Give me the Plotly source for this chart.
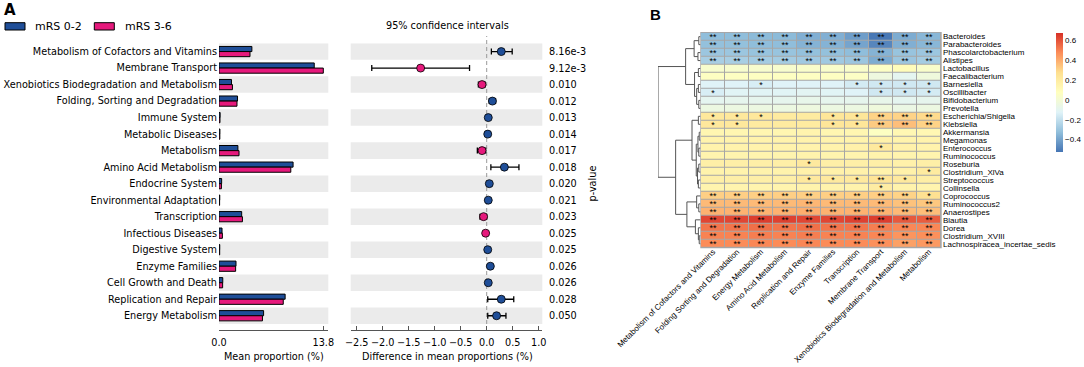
import plotly.graph_objects as go

W, H = 1084, 367


def px(x):
    return x / W


def py(y):
    return 1 - y / H


# ---------------- Panel A data ----------------
pathways = [
    "Metabolism of Cofactors and Vitamins", "Membrane Transport",
    "Xenobiotics Biodegradation and Metabolism", "Folding, Sorting and Degradation",
    "Immune System", "Metabolic Diseases", "Metabolism", "Amino Acid Metabolism",
    "Endocrine System", "Environmental Adaptation", "Transcription",
    "Infectious Diseases", "Digestive System", "Enzyme Families",
    "Cell Growth and Death", "Replication and Repair", "Energy Metabolism",
]
mean_mrs02 = [4.35, 12.6, 1.65, 2.45, 0.15, 0.12, 2.5, 9.8, 0.35, 0.1, 3.0, 0.4, 0.1, 2.25, 0.5, 8.75, 5.9]
mean_mrs36 = [4.1, 13.8, 1.78, 2.38, 0.13, 0.11, 2.65, 9.5, 0.32, 0.08, 3.1, 0.45, 0.09, 2.2, 0.48, 8.5, 5.75]
diff_mean = [0.28, -1.27, -0.09, 0.11, 0.03, 0.02, -0.09, 0.34, 0.05, 0.03, -0.06, -0.02, 0.02, 0.07, 0.03, 0.28, 0.19]
ci_low = [0.09, -2.21, -0.16, 0.05, 0.02, 0.01, -0.18, 0.08, 0.03, 0.02, -0.13, -0.04, 0.01, 0.04, 0.02, 0.02, 0.02]
ci_high = [0.49, -0.33, -0.03, 0.17, 0.04, 0.03, -0.02, 0.62, 0.07, 0.04, 0.0, -0.005, 0.03, 0.10, 0.05, 0.52, 0.37]
p_values = ["8.16e-3", "9.12e-3", "0.010", "0.012", "0.013", "0.014", "0.017", "0.018",
            "0.020", "0.021", "0.023", "0.025", "0.025", "0.026", "0.026", "0.028", "0.050"]
group_names = ["mRS 0-2", "mRS 3-6"]
bar_ticks = [0, 13.8]
bar_ticktext = ["0.0", "13.8"]
diff_ticks = [-2.5, -2.0, -1.5, -1.0, -0.5, 0.0, 0.5, 1.0]

# ---------------- Panel B data ----------------
func_cols = [
    "Metabolism of Cofactors and Vitamins", "Folding Sorting and Degradation",
    "Energy Metabolism", "Amino Acid Metabolism", "Replication and Repair",
    "Enzyme Families", "Transcription", "Membrane Transport",
    "Xenobiotics Biodegradation and Metabolism", "Metabolism",
]
genera = [
    "Bacteroides", "Parabacteroides", "Phascolarctobacterium", "Alistipes",
    "Lactobacillus", "Faecalibacterium", "Barnesiella", "Oscillibacter",
    "Bifidobacterium", "Prevotella", "Escherichia/Shigella", "Klebsiella",
    "Akkermansia", "Megamonas", "Enterococcus", "Ruminococcus", "Roseburia",
    "Clostridium_XlVa", "Streptococcus", "Collinsella", "Coprococcus",
    "Ruminococcus2", "Anaerostipes", "Blautia", "Dorea", "Clostridium_XVIII",
    "Lachnospiracea_incertae_sedis",
]
corr = [
    [-0.33, -0.33, -0.34, -0.34, -0.37, -0.37, -0.42, -0.52, -0.38, -0.35],
    [-0.32, -0.32, -0.33, -0.33, -0.36, -0.36, -0.40, -0.48, -0.37, -0.35],
    [-0.30, -0.30, -0.31, -0.31, -0.32, -0.32, -0.33, -0.36, -0.31, -0.30],
    [-0.27, -0.27, -0.28, -0.28, -0.29, -0.29, -0.30, -0.38, -0.30, -0.28],
    [0.02, 0.02, 0.02, 0.02, 0.03, 0.03, 0.03, 0.05, 0.09, 0.03],
    [0.06, 0.06, 0.06, 0.06, 0.06, 0.06, 0.05, -0.04, -0.10, -0.03],
    [-0.13, -0.13, -0.15, -0.13, -0.13, -0.13, -0.16, -0.17, -0.17, -0.17],
    [-0.15, -0.12, -0.12, -0.12, -0.11, -0.12, -0.13, -0.17, -0.17, -0.16],
    [-0.10, -0.09, -0.09, -0.09, -0.08, -0.09, -0.09, -0.08, -0.10, -0.09],
    [-0.05, -0.05, -0.05, -0.05, -0.04, -0.05, -0.05, -0.03, -0.06, -0.05],
    [0.22, 0.22, 0.22, 0.20, 0.20, 0.23, 0.23, 0.30, 0.30, 0.28],
    [0.22, 0.22, 0.20, 0.20, 0.20, 0.23, 0.23, 0.32, 0.35, 0.30],
    [0.13, 0.13, 0.13, 0.13, 0.14, 0.13, 0.13, 0.06, 0.12, 0.12],
    [0.15, 0.15, 0.15, 0.15, 0.15, 0.15, 0.15, 0.16, 0.15, 0.15],
    [0.15, 0.15, 0.15, 0.15, 0.15, 0.15, 0.16, 0.21, 0.16, 0.15],
    [0.14, 0.14, 0.14, 0.14, 0.15, 0.14, 0.14, 0.15, 0.14, 0.14],
    [0.17, 0.17, 0.17, 0.17, 0.21, 0.17, 0.17, 0.17, 0.16, 0.17],
    [0.15, 0.15, 0.15, 0.15, 0.16, 0.16, 0.16, 0.15, 0.16, 0.20],
    [0.17, 0.17, 0.17, 0.17, 0.21, 0.21, 0.21, 0.24, 0.21, 0.18],
    [0.14, 0.14, 0.14, 0.14, 0.15, 0.15, 0.15, 0.19, 0.15, 0.14],
    [0.31, 0.31, 0.31, 0.31, 0.31, 0.31, 0.31, 0.31, 0.30, 0.26],
    [0.36, 0.36, 0.36, 0.36, 0.37, 0.36, 0.36, 0.36, 0.34, 0.33],
    [0.38, 0.38, 0.38, 0.38, 0.39, 0.38, 0.38, 0.38, 0.36, 0.35],
    [0.62, 0.62, 0.64, 0.63, 0.62, 0.62, 0.63, 0.64, 0.58, 0.57],
    [0.52, 0.52, 0.53, 0.52, 0.53, 0.52, 0.52, 0.50, 0.48, 0.48],
    [0.49, 0.49, 0.50, 0.49, 0.50, 0.49, 0.49, 0.48, 0.45, 0.46],
    [0.47, 0.47, 0.48, 0.47, 0.48, 0.47, 0.47, 0.46, 0.42, 0.44],
]
# number of significance stars per cell
sig_stars = [
    [2] * 10, [2] * 10, [2] * 10, [2] * 10,
    [0] * 10, [0] * 10,
    [0, 0, 1, 0, 0, 0, 1, 1, 1, 1],
    [1, 0, 0, 0, 0, 0, 0, 1, 1, 1],
    [0] * 10, [0] * 10,
    [1, 1, 1, 0, 0, 1, 1, 2, 2, 2],
    [1, 1, 0, 0, 0, 1, 1, 2, 2, 2],
    [0] * 10, [0] * 10,
    [0, 0, 0, 0, 0, 0, 0, 1, 0, 0],
    [0] * 10,
    [0, 0, 0, 0, 1, 0, 0, 0, 0, 0],
    [0, 0, 0, 0, 0, 0, 0, 0, 0, 1],
    [0, 0, 0, 0, 1, 1, 1, 2, 1, 0],
    [0, 0, 0, 0, 0, 0, 0, 1, 0, 0],
    [2, 2, 2, 2, 2, 2, 2, 2, 2, 1],
    [2] * 10, [2] * 10, [2] * 10, [2] * 10, [2] * 10, [2] * 10,
]
# row dendrogram: (left, right, height); leaves are row indices
row_tree = (
    (((0, 1, 0.04), (2, 3, 0.06), 0.15),
     ((4, 5, 0.05), ((6, 7, 0.05), (8, 9, 0.04), 0.09), 0.14), 0.35),
    (((10, 11, 0.05),
      (((12, 13, 0.03), (14, 15, 0.04), 0.06), ((16, 17, 0.04), (18, 19, 0.05), 0.07), 0.10), 0.20),
     ((20, (21, 22, 0.04), 0.09), (23, (24, (25, 26, 0.03), 0.05), 0.12), 0.32), 0.585),
    1.0,
)
corr_min, corr_max = -0.527, 0.667
cbar_ticks = [-0.4, -0.2, 0, 0.2, 0.4, 0.6]
cbar_ticktext = ["\u22120.4", "\u22120.2", "0", "0.2", "0.4", "0.6"]

# ---------------- styles ----------------
BLUE = "#1f4e98"
PINK = "#e6197c"
BAND = "#ebebeb"
AX = "#555555"
FA = "DejaVu Sans"
FB = "Liberation Sans"
SA = 9.7
SB = 8

fig = go.Figure()
rows = list(range(len(pathways)))

# bars
fig.add_trace(go.Bar(y=rows, x=mean_mrs02, orientation="h", name=group_names[0],
                     marker=dict(color=BLUE, line=dict(color="black", width=1)),
                     xaxis="x", yaxis="y", showlegend=False))
fig.add_trace(go.Bar(y=rows, x=mean_mrs36, orientation="h", name=group_names[1],
                     marker=dict(color=PINK, line=dict(color="black", width=1)),
                     xaxis="x", yaxis="y", showlegend=False))

# CI plot
fig.add_trace(go.Scatter(
    x=diff_mean, y=rows, mode="markers", xaxis="x2", yaxis="y2", showlegend=False,
    marker=dict(size=8, color=[BLUE if d > 0 else PINK for d in diff_mean],
                line=dict(color="black", width=0.8)),
    error_x=dict(type="data", symmetric=False,
                 array=[h - d for h, d in zip(ci_high, diff_mean)],
                 arrayminus=[d - l for d, l in zip(diff_mean, ci_low)],
                 color="black", thickness=1.3, width=3),
))

# dendrogram
dx, dy = [], []


def walk(node):
    if isinstance(node, int):
        return float(node), 0.0
    left, right, h = node
    yl, hl = walk(left)
    yr, hr = walk(right)
    dx.extend([hl, h, h, hr, None])
    dy.extend([yl, yl, yr, yr, None])
    return (yl + yr) / 2, h


walk(row_tree)
fig.add_trace(go.Scatter(x=dx, y=dy, mode="lines", xaxis="x4", yaxis="y4",
                         line=dict(color="#555555", width=1), showlegend=False,
                         hoverinfo="skip"))

# heatmap
rdylbu_rev = ["#4575B4", "#91BFDB", "#E0F3F8", "#FFFFBF", "#FEE090", "#FC8D59", "#D73027"]
cscale = [[i / (len(rdylbu_rev) - 1), c] for i, c in enumerate(rdylbu_rev)]
fig.add_trace(go.Heatmap(
    z=corr, x=func_cols, y=genera, xaxis="x3", yaxis="y3",
    colorscale=cscale, zmin=corr_min, zmax=corr_max, xgap=1, ygap=1,
    text=[["*" * n for n in r] for r in sig_stars], texttemplate="%{text}",
    textfont=dict(size=9, color="black", family=FB),
    colorbar=dict(x=px(1055.7), xanchor="left", y=py(33.3), yanchor="top",
                  len=(152.7 - 33.3) / H, lenmode="fraction", thickness=7,
                  thicknessmode="pixels", outlinewidth=0, xpad=0, ypad=0,
                  tickvals=cbar_ticks, ticktext=cbar_ticktext, ticklen=0,
                  tickfont=dict(size=SB, family=FB, color="black"), ticks=""),
))

yr_bottom = len(pathways) - 0.5 + 6 / 16.5
common_x = dict(ticks="inside", ticklen=4, tickcolor=AX, showline=True, linecolor=AX,
                linewidth=1, showgrid=False, zeroline=False, automargin=False, tickangle=0,
                tickfont=dict(size=SA, family=FA, color="black"), ticklabelstandoff=3)

fig.update_layout(
    template="none",
    width=W, height=H, margin=dict(l=0, r=0, t=0, b=0, autoexpand=False),
    paper_bgcolor="white", plot_bgcolor="rgba(0,0,0,0)",
    barmode="group", bargap=0.38, bargroupgap=0,
    xaxis=dict(domain=[px(219), px(328.3)], range=[0, 14.46], anchor="y",
               tickvals=bar_ticks, ticktext=bar_ticktext, **common_x),
    yaxis=dict(domain=[py(330), py(43.3)], range=[yr_bottom, -0.5], anchor="x",
               tickvals=rows, ticktext=pathways, ticks="", showgrid=False, zeroline=False,
               showline=False, automargin=False,
               tickfont=dict(size=SA, family=FA, color="black"), ticklabelstandoff=1),
    xaxis2=dict(domain=[px(350.7), px(542.3)], range=[-2.615, 1.069], anchor="y2",
                tickvals=diff_ticks, tickformat=".1f", **common_x),
    yaxis2=dict(domain=[py(330), py(43.3)], range=[yr_bottom, -0.5], anchor="x2",
                showticklabels=False, ticks="", showgrid=False, zeroline=False,
                showline=False, automargin=False),
    xaxis3=dict(domain=[px(701), px(941)], anchor="y3", tickangle=-45, ticks="",
                showgrid=False, zeroline=False, showline=False, automargin=False,
                ticklabelstandoff=-3, tickmode="array", tickvals=func_cols,
                tickfont=dict(size=SB, family=FB, color="black")),
    yaxis3=dict(domain=[py(247.7), py(32.7)], anchor="x3", side="right",
                range=[len(genera) - 0.5, -0.5], ticks="", showgrid=False, zeroline=False,
                showline=False, automargin=False, tickmode="array", tickvals=genera,
                ticklabelstandoff=1, tickfont=dict(size=SB, family=FB, color="black")),
    xaxis4=dict(domain=[px(658), px(700.5)], range=[1.0, 0], anchor="y4", visible=False),
    yaxis4=dict(domain=[py(247.7), py(32.7)], range=[len(genera) - 0.5, -0.5],
                anchor="x4", visible=False),
)

shapes = []
for i in rows:
    if i % 2 == 0:
        for xr in ("x domain", "x2 domain"):
            shapes.append(dict(type="rect", xref=xr, yref="y", x0=0, x1=1,
                               y0=i - 0.5, y1=i + 0.5, fillcolor=BAND,
                               line=dict(width=0), layer="below"))
shapes.append(dict(type="line", xref="x2", yref="paper", x0=0, x1=0,
                   y0=py(324), y1=py(36), line=dict(color="#999999", width=1, dash="4px,3px"),
                   layer="below"))
shapes.append(dict(type="rect", xref="x3 domain", yref="y3 domain", x0=-0.003, x1=1.003,
                   y0=-0.003, y1=1.003, fillcolor="#a6a6a6", line=dict(width=0), layer="below"))
# legend patches
for x0, col in ((5, BLUE), (94.3, PINK)):
    shapes.append(dict(type="rect", xref="paper", yref="paper", x0=px(x0), x1=px(x0 + 20),
                       y0=py(30), y1=py(22.7), fillcolor=col, line=dict(color="black", width=1)))
fig.update_layout(shapes=shapes)

ann = []
ann.append(dict(text="<b>A</b>", x=px(2), y=py(10), xref="paper", yref="paper",
                xanchor="left", yanchor="middle", showarrow=False,
                font=dict(size=15, family=FA, color="black")))
ann.append(dict(text="<b>B</b>", x=px(648), y=py(14), xref="paper", yref="paper",
                xanchor="left", yanchor="middle", showarrow=False,
                font=dict(size=15, family=FB, color="black")))
for x0, name in ((33.3, group_names[0]), (122.5, group_names[1])):
    ann.append(dict(text=name, x=px(x0), y=py(26), xref="paper", yref="paper",
                    xanchor="left", yanchor="middle", showarrow=False,
                    font=dict(size=11, family=FA, color="black")))
ann.append(dict(text="95% confidence intervals", x=px(447), y=py(25), xref="paper", yref="paper",
                xanchor="center", yanchor="middle", showarrow=False,
                font=dict(size=SA, family=FA, color="black")))
ann.append(dict(text="Mean proportion (%)", x=px(273.5), y=py(356.5), xref="paper", yref="paper",
                xanchor="center", yanchor="middle", showarrow=False,
                font=dict(size=SA, family=FA, color="black")))
ann.append(dict(text="Difference in mean proportions (%)", x=px(447), y=py(356.5), xref="paper",
                yref="paper", xanchor="center", yanchor="middle", showarrow=False,
                font=dict(size=SA, family=FA, color="black")))
for i, p in enumerate(p_values):
    ann.append(dict(text=p, x=px(547), y=i, xref="paper", yref="y2", xanchor="left",
                    yanchor="middle", showarrow=False, font=dict(size=SA, family=FA, color="black")))
ann.append(dict(text="p-value", x=px(592), y=py(183.5), xref="paper", yref="paper",
                textangle=-90, xanchor="center", yanchor="middle", showarrow=False,
                font=dict(size=SA, family=FA, color="black")))
fig.update_layout(annotations=ann)

fig.write_html("out.html", config={"displayModeBar": False},
               post_script="document.body.style.margin='0';document.body.style.padding='0';")
